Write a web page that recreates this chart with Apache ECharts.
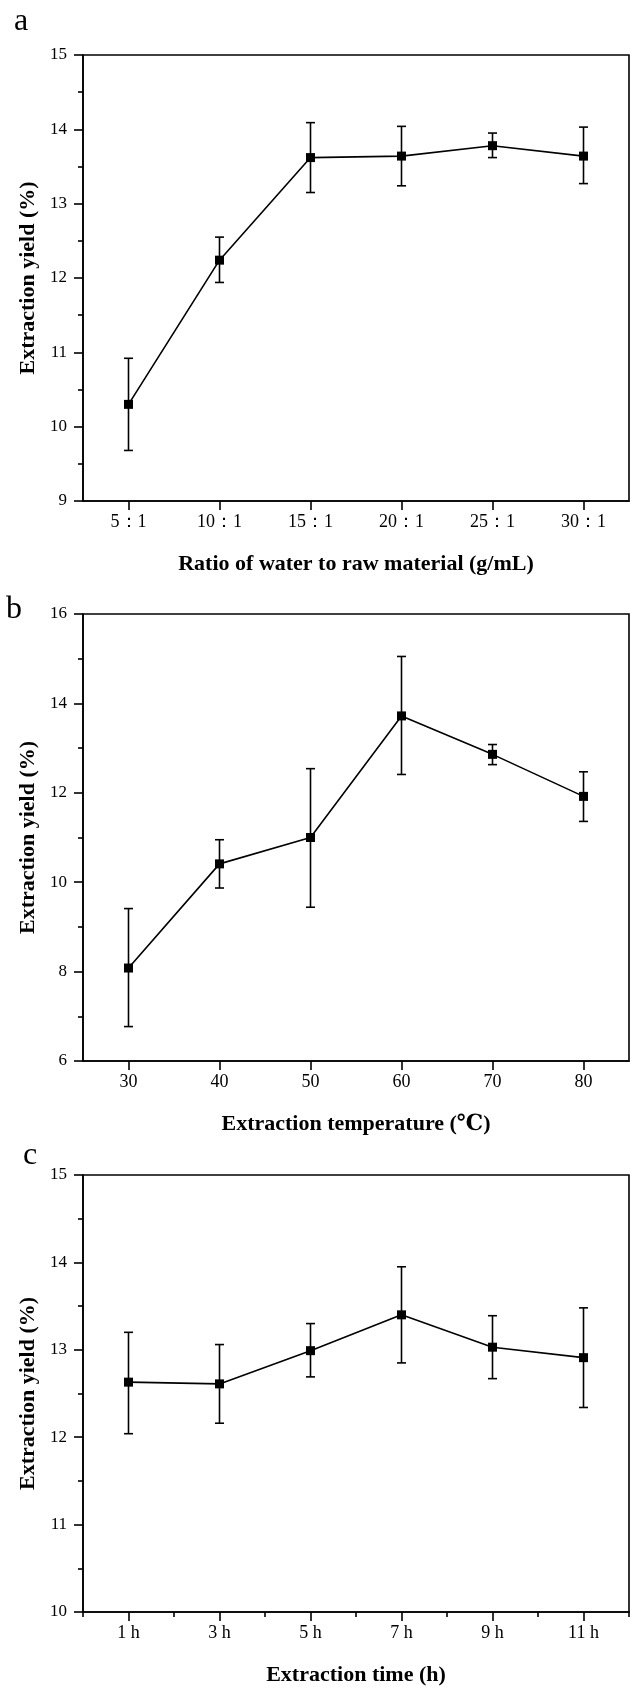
<!DOCTYPE html>
<html><head><meta charset="utf-8">
<script src="https://cdn.jsdelivr.net/npm/echarts@6/dist/echarts.min.js"></script>
<style>html,body{margin:0;padding:0;background:#fff}#c{width:630px;height:1687px}</style>
</head><body><div id="c"></div>
<script>
// Panel a: ratio of water to raw material
const ratioCats = ['5：1','10：1','15：1','20：1','25：1','30：1'];
const ratioMean = [10.30, 12.24, 13.62, 13.64, 13.78, 13.64];
const ratioLow  = [9.68, 11.94, 13.15, 13.24, 13.62, 13.27];
const ratioHigh = [10.92, 12.55, 14.09, 14.04, 13.95, 14.03];
// Panel b: extraction temperature
const tempCats = ['30','40','50','60','70','80'];
const tempMean = [8.08, 10.41, 11.00, 13.72, 12.86, 11.92];
const tempLow  = [6.77, 9.87, 9.44, 12.41, 12.63, 11.36];
const tempHigh = [9.41, 10.95, 12.54, 15.05, 13.08, 12.47];
// Panel c: extraction time
const timeCats = ['1 h','3 h','5 h','7 h','9 h','11 h'];
const timeMean = [12.63, 12.61, 12.99, 13.40, 13.03, 12.91];
const timeLow  = [12.04, 12.16, 12.69, 12.85, 12.67, 12.34];
const timeHigh = [13.20, 13.06, 13.30, 13.95, 13.39, 13.48];

const FONT = '"Liberation Serif","DejaVu Serif",serif';
const BLACK = '#000';

function errItem(params, api){
  const x = api.value(0);
  const lo = api.coord([x, api.value(1)]);
  const hi = api.coord([x, api.value(2)]);
  const w = 4.5;
  const st = {stroke: BLACK, lineWidth: 1.6, fill: null};
  return {type:'group', children:[
    {type:'line', shape:{x1:lo[0],y1:lo[1],x2:hi[0],y2:hi[1]}, style:st},
    {type:'line', shape:{x1:lo[0]-w,y1:lo[1],x2:lo[0]+w,y2:lo[1]}, style:st},
    {type:'line', shape:{x1:hi[0]-w,y1:hi[1],x2:hi[0]+w,y2:hi[1]}, style:st}
  ]};
}

const grids = [
  {left:83, right:1, top:55, height:446},
  {left:83, right:1, top:614, height:447},
  {left:83, right:1, top:1175, height:448}
].map(g => Object.assign({show:true, borderColor:BLACK, borderWidth:1.6, backgroundColor:'transparent'}, g));

function xAx(gi, cats, name){
  return {
    type:'category', gridIndex:gi, data:cats, boundaryGap:true,
    name:name, nameLocation:'middle', nameGap:52,
    nameTextStyle:{fontFamily:FONT, fontWeight:'bold', fontSize:22, color:BLACK},
    axisLine:{lineStyle:{color:BLACK, width:1.6}},
    axisTick:{show:true, alignWithLabel:true, length:9, lineStyle:{color:BLACK, width:1.6}},
    axisLabel:{fontFamily:FONT, fontSize:18, color:BLACK, margin:12},
    splitLine:{show:false}
  };
}
function yAx(gi, min, max, interval){
  return {
    type:'value', gridIndex:gi, min:min, max:max, interval:interval,
    name:'Extraction yield (%)', nameLocation:'middle', nameGap:43, nameRotate:90,
    nameTextStyle:{fontFamily:FONT, fontWeight:'bold', fontSize:22, color:BLACK},
    axisLine:{show:true, lineStyle:{color:BLACK, width:1.6}},
    axisTick:{show:true, length:9, lineStyle:{color:BLACK, width:1.6}},
    minorTick:{show:true, splitNumber:2, length:5, lineStyle:{color:BLACK, width:1.6}},
    axisLabel:{fontFamily:FONT, fontSize:17, color:BLACK, margin:16},
    splitLine:{show:false}, minorSplitLine:{show:false}
  };
}

const xAxes = [
  xAx(0, ratioCats, 'Ratio of water to raw material (g/mL)'),
  xAx(1, tempCats, 'Extraction temperature (℃)'),
  xAx(2, timeCats, 'Extraction time (h)'),
  {
    type:'category', gridIndex:2, data:timeCats, boundaryGap:true, position:'bottom',
    axisLine:{show:false}, axisLabel:{show:false},
    axisTick:{show:true, alignWithLabel:false, length:5, lineStyle:{color:BLACK, width:1.6}},
    splitLine:{show:false}
  }
];
const yAxes = [yAx(0, 9, 15, 1), yAx(1, 6, 16, 2), yAx(2, 10, 15, 1)];

function lineSeries(i, vals){
  return {type:'line', xAxisIndex:i, yAxisIndex:i, data:vals, symbol:'rect', symbolSize:9,
    showSymbol:true, itemStyle:{color:BLACK}, lineStyle:{color:BLACK, width:1.6}, z:3, animation:false};
}
function errSeries(i, lo, hi){
  return {type:'custom', xAxisIndex:i, yAxisIndex:i, renderItem:errItem,
    data: lo.map((v, k) => [k, v, hi[k]]), z:2, animation:false};
}

const option = {
  animation:false,
  backgroundColor:'#fff',
  grid: grids,
  xAxis: xAxes,
  yAxis: yAxes,
  graphic: [
    {type:'text', left:14, top:6, style:{text:'a', font:'32px '+FONT, fill:BLACK}},
    {type:'text', left:6, top:594, style:{text:'b', font:'32px '+FONT, fill:BLACK}},
    {type:'text', left:23, top:1140, style:{text:'c', font:'32px '+FONT, fill:BLACK}}
  ],
  series: [
    errSeries(0, ratioLow, ratioHigh), lineSeries(0, ratioMean),
    errSeries(1, tempLow, tempHigh), lineSeries(1, tempMean),
    errSeries(2, timeLow, timeHigh), lineSeries(2, timeMean)
  ]
};
const chart = echarts.init(document.getElementById('c'), null, {renderer:'canvas'});
chart.setOption(option);
</script></body></html>
